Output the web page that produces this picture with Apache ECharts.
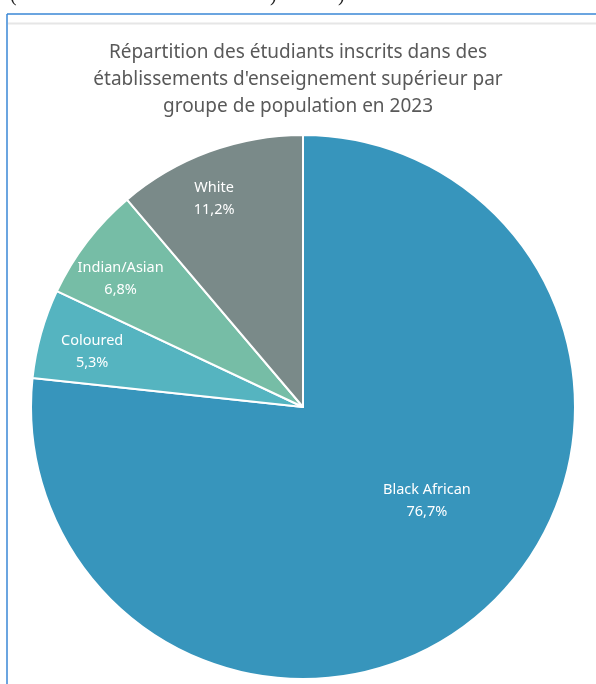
<!DOCTYPE html>
<html>
<head>
<meta charset="utf-8">
<script src="https://cdn.jsdelivr.net/npm/echarts@6/dist/echarts.min.js"></script>
<style>
    html, body { margin: 0; padding: 0; background: #fff; }
    #chart { width: 596px; height: 684px; }
</style>
</head>
<body>
<div id="chart"></div>
<script>
var groupes = ['Black African', 'Coloured', 'Indian/Asian', 'White'];
var parts = [76.7, 5.3, 6.8, 11.2];
var couleurs = ['#3795bc', '#55b4c0', '#76bda6', '#7a8a89'];
// décalage des étiquettes par rapport à la position "inside"
var decalages = [[31, -10], [-77, -18], [-72, -44], [-41, -78]];

var titre = "Répartition des étudiants inscrits dans des\nétablissements d'enseignement supérieur par\ngroupe de population en 2023";

var myChart = echarts.init(document.getElementById('chart'));

myChart.setOption({
    animation: false,
    title: {
        text: titre,
        left: 'center',
        top: 34,
        textStyle: {
            fontFamily: 'Noto Sans',
            fontSize: 19,
            fontWeight: 'normal',
            color: '#595959',
            lineHeight: 27
        }
    },
    graphic: [
        { type: 'line', shape: { x1: 7, y1: 14, x2: 596, y2: 14 }, style: { stroke: '#3a87d6', lineWidth: 1.5 } },
        { type: 'line', shape: { x1: 7, y1: 14, x2: 7, y2: 684 }, style: { stroke: '#3a87d6', lineWidth: 1.5 } },
        { type: 'line', shape: { x1: 8, y1: 23.5, x2: 596, y2: 23.5 }, style: { stroke: '#e6e6e6', lineWidth: 2 } },
        { type: 'text', left: 10, top: -14, style: { text: '(', fontSize: 20, fill: '#222', fontFamily: 'Liberation Serif' } },
        { type: 'text', left: 270, top: -14, style: { text: ')', fontSize: 20, fill: '#222', fontFamily: 'Liberation Serif' } },
        { type: 'text', left: 338, top: -14, style: { text: ')', fontSize: 20, fill: '#222', fontFamily: 'Liberation Serif' } }
    ],
    series: [{
        type: 'pie',
        center: [303, 407],
        radius: [0, 272],
        startAngle: 90,
        clockwise: true,
        avoidLabelOverlap: false,
        itemStyle: {
            borderColor: '#fff',
            borderWidth: 2
        },
        label: {
            show: true,
            position: 'inside',
            color: '#fff',
            fontFamily: 'Noto Sans',
            fontSize: 14.5,
            lineHeight: 22,
            formatter: function(p) {
                return p.name + '\n' + p.value.toFixed(1).replace('.', ',') + '%';
            }
        },
        labelLine: { show: false },
        labelLayout: function(params) {
            var d = decalages[params.dataIndex];
            return { dx: d[0], dy: d[1] };
        },
        data: groupes.map(function(g, i) {
            return { name: g, value: parts[i], itemStyle: { color: couleurs[i] } };
        })
    }]
});
</script>
</body>
</html>
